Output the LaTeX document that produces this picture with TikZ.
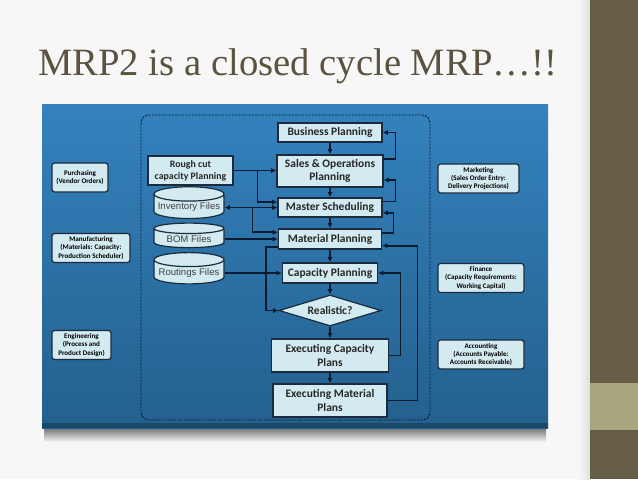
\documentclass[tikz,border=0pt]{standalone}
\usepackage{fontspec}
\setmainfont{Carlito}
\newfontfamily\titlefont{Liberation Serif}
\newfontfamily\filefont{Liberation Sans}
\usepackage{tikz}
\usetikzlibrary{arrows.meta,shapes.geometric,calc}
\definecolor{barclr}{HTML}{655D46}
\definecolor{bandclr}{HTML}{A9A57D}
\definecolor{titleclr}{HTML}{5B5340}
\definecolor{panelt}{HTML}{3482BE}
\definecolor{panelb}{HTML}{23608D}
\definecolor{boxfill}{HTML}{D3EAF0}
\definecolor{edgeclr}{HTML}{1B2A3C}
\definecolor{lineclr}{HTML}{0D1B2E}
\tikzset{
  proc/.style={draw=edgeclr,fill=boxfill,line width=0.9pt,align=center,inner sep=1pt,
               font=\bfseries\fontsize{8.6}{10}\selectfont,text=black!85},
  filebox/.style={cylinder,shape border rotate=90,aspect=0.22,draw=edgeclr,fill=boxfill,line width=0.9pt,
               inner sep=1pt,minimum width=52.5pt,minimum height=17.5pt,
               font=\filefont\fontsize{7.2}{8}\selectfont,text=black!75},
  dept/.style={draw=edgeclr,fill=boxfill,rounded corners=2pt,line width=0.9pt,align=center,inner sep=1pt,
               minimum height=21.75pt,font=\bfseries\fontsize{5.3}{6.2}\selectfont},
  arr/.style={->,line width=1.3pt,draw=lineclr},
}
\begin{document}
\begin{tikzpicture}[x=0.75pt,y=-0.75pt,>={Latex[length=4pt,width=4pt]}]
\useasboundingbox (0,0) rectangle (638,479);
% slide
\fill[white!97!black] (0,0) rectangle (590,479);
\shade[left color=white!97!black,right color=white!88!black] (578,0) rectangle (590,479);
\fill[barclr] (590,0) rectangle (638,479);
\fill[bandclr] (590,383) rectangle (638,430);
\node[font=\titlefont\fontsize{29}{30}\selectfont,text=titleclr,anchor=base west,inner sep=0pt] (title) at (38,75) {MRP2 is a closed cycle MRP…!!};
% blue panel with shadow
\shade[top color=black!55,bottom color=white!97!black] (44,428) rectangle (546,442);
\shade[top color=panelt,bottom color=panelb] (42,104) rectangle (548,428);
\fill[panelb!75!black] (42,423) rectangle (548,428);
\draw[lineclr,line width=0.7pt,dash pattern=on 1.5pt off 1pt,rounded corners=6pt] (141,115) rectangle (430,420);
% main column
\node[proc,minimum width=78pt,minimum height=14.25pt] (bp) at (330,132.5) {Business Planning};
\node[proc,minimum width=79.5pt,minimum height=24pt] (sop) at (330,171) {Sales \& Operations\\Planning};
\node[proc,minimum width=78pt,minimum height=14.25pt] (ms) at (330,207.5) {Master Scheduling};
\node[proc,minimum width=77.25pt,minimum height=15pt] (mp) at (330,239) {Material Planning};
\node[proc,minimum width=71.25pt,minimum height=15pt] (cp) at (330,273) {Capacity Planning};
\node[proc,diamond,aspect=3.3,inner sep=0pt,minimum width=76.5pt,minimum height=23.25pt] (real) at (330,310.5) {Realistic?};
\node[proc,minimum width=87.75pt,minimum height=24.75pt] (ecp) at (330,355.5) {Executing Capacity\\Plans};
\node[proc,minimum width=85.5pt,minimum height=24.75pt] (emp) at (330,400.5) {Executing Material\\Plans};
% inputs on the left
\node[proc,minimum width=63.75pt,minimum height=21.75pt,font=\bfseries\fontsize{7.4}{9}\selectfont] (rc) at (190.5,170.5) {Rough cut\\capacity Planning};
\node[filebox] (inv) at (189,207.5) {Inventory Files};
\node[filebox] (bom) at (189,239) {BOM Files};
\node[filebox] (rout) at (189,273) {Routings Files};
% departments
\foreach \n/\x/\y/\w/\t in {purch/80/177.5/42pt/{Purchasing\\(Vendor Orders)},
    manu/91/248/58.5pt/{Manufacturing\\(Materials: Capacity:\\Production Scheduler)},
    engi/81.5/345/44.25pt/{Engineering\\(Process and\\Product Design)},
    mark/478.5/178.5/60.75pt/{Marketing\\(Sales Order Entry:\\Delivery Projections)},
    fin/481/278/64.5pt/{Finance\\(Capacity Requirements:\\Working Capital)},
    acct/481/354.5/64.5pt/{Accounting\\(Accounts Payable:\\Accounts Receivable)}}
  \node[dept,minimum width=\w] (\n) at (\x,\y) {\t};
% flow down the column
\foreach \a/\b in {bp/sop,sop/ms,ms/mp,mp/cp,cp/real,real/ecp,ecp/emp}
  \draw[arr] (\a) -- (\b);
% feedback loops on the right
\draw[arr] ([yshift=9pt]sop.east) -- ++(12,0) |- (bp.east);
\draw[arr] ([yshift=4.5pt]ms.east) -- ++(13,0) |- ([yshift=-6.75pt]sop.east);
\draw[arr] ([yshift=4.5pt]mp.east) -- ++(11.5,0) |- ([yshift=-4pt]ms.east);
\draw[arr] (ecp.east) -- ++(11.5,0) |- (cp.east);
\draw[arr] (emp.east) -- ++(30,0) |- ([yshift=-5pt]mp.east);
% inputs
\draw[arr] (rc.east) -- (rc.east -| sop.west);
\draw[arr] (rc.east) -- ++(24,0) |- ([yshift=4pt]ms.west);
\draw[arr,<->] (ms.west) -- (ms.west -| inv.east);
\draw[arr] (ms.west -| inv.east) ++(28,0) |- ([yshift=5pt]mp.west);
\draw[arr] (bom.east) -- (bom.east -| mp.west);
\draw[arr] (rout.east) -- (rout.east -| cp.west);
\draw[arr] ([yshift=-6pt]mp.west) -- ++(-12,0) |- (real.west);
\end{tikzpicture}
\end{document}
